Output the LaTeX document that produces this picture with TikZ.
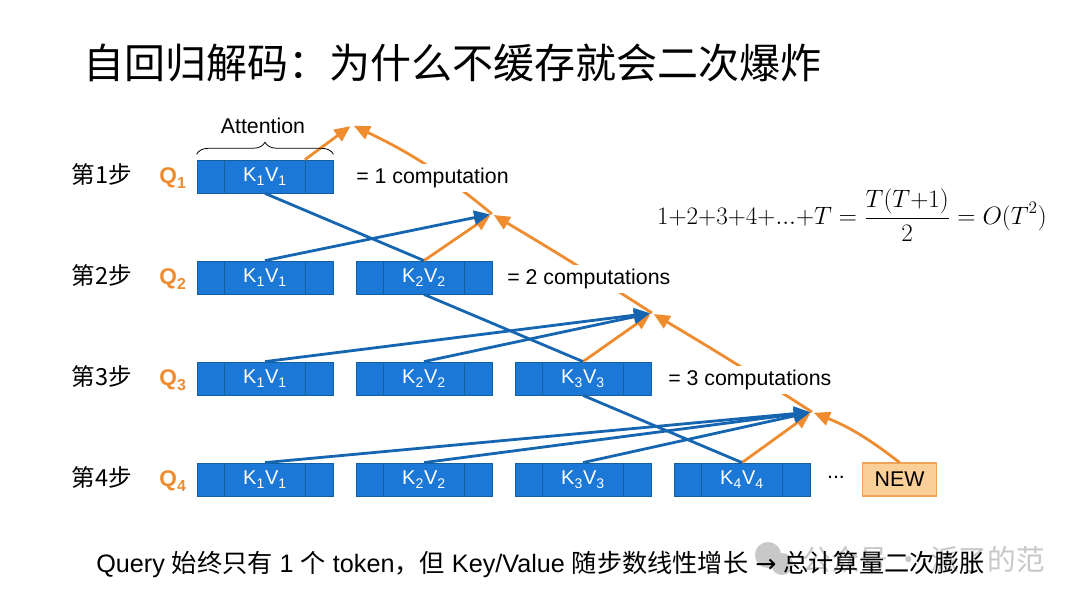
\documentclass[tikz,border=0pt]{standalone}
\usepackage{fontspec}
\setmainfont{Liberation Sans}
\newfontfamily\cjk{Noto Sans CJK SC}
\newfontfamily\arrowfont{DejaVu Sans}
\usetikzlibrary{arrows.meta,decorations.pathreplacing}
\definecolor{kvfill}{HTML}{1B78D6}
\definecolor{kvline}{HTML}{14609F}
\definecolor{arrowblue}{HTML}{1565B0}
\definecolor{arroworange}{HTML}{EE8C2F}
\definecolor{newfill}{HTML}{FBCF98}
\definecolor{markgray}{HTML}{C8C8C8}
\newcommand{\kv}[1]{\raisebox{-1.2pt}{K\textsubscript{\raisebox{-1pt}{#1}}V\textsubscript{\raisebox{-1pt}{#1}}}}
\newcommand{\qlabel}[1]{\textbf{Q\textsubscript{\raisebox{-1.5pt}{#1}}}}
\tikzset{
	kvbox/.style={draw=kvline,fill=kvfill,line width=0.6pt,text=white,inner sep=0pt,
		minimum width=102pt,minimum height=24.75pt,font=\fontsize{15}{17}\selectfont,
		path picture={
			\draw[kvline,line width=0.6pt] ([xshift=20.5pt]path picture bounding box.south west) -- ([xshift=20.5pt]path picture bounding box.north west);
			\draw[kvline,line width=0.6pt] ([xshift=-20.5pt]path picture bounding box.south east) -- ([xshift=-20.5pt]path picture bounding box.north east);
		}},
	newbox/.style={draw=arroworange!80,fill=newfill,line width=0.8pt,inner sep=0pt,
		minimum width=56pt,minimum height=24.75pt,font=\fontsize{16}{18}\selectfont},
	steplabel/.style={font=\cjk\fontsize{17.7}{20}\selectfont},
	qname/.style={text=arroworange,font=\fontsize{17}{20}\selectfont},
	costlabel/.style={fill=white,inner sep=0pt,minimum height=21pt,font=\fontsize{16}{18}\selectfont},
	bluelink/.style={draw=arrowblue,line width=2.1pt},
	bluearrow/.style={bluelink,-{Triangle[length=12pt,width=10.5pt]},shorten >=1.5pt},
	orangearrow/.style={draw=arroworange,line width=2.1pt,-{Triangle[length=12pt,width=10.5pt]},shorten >=1.5pt}
}
\begin{document}
\begin{tikzpicture}[x=0.75pt,y=-0.75pt]
	\useasboundingbox (0,0) rectangle (1080,603);
	\fill[white] (0,0) rectangle (1080,603);
	% title and watermark
	\node[anchor=west,inner sep=0pt,font=\cjk\fontsize{30.75}{34}\selectfont] (title) at (83,63) {自回归解码：为什么不缓存就会二次爆炸};
	\fill[markgray] (768,555) circle (13);
	\fill[markgray] (782,564) circle (11);
	\node[anchor=east,inner sep=0pt,text=markgray,font=\cjk\fontsize{21.5}{24}\selectfont] (mark) at (1045,560) {公众号 · 派了的范};
	% step labels
	\node[steplabel] (s1) at (102,174) {第1步};
	\node[steplabel] (s2) at (102,275) {第2步};
	\node[steplabel] (s3) at (102,376) {第3步};
	\node[steplabel] (s4) at (102,477) {第4步};
	\node[qname] (q1) at (173,178) {\qlabel{1}};
	\node[qname] (q2) at (173,279) {\qlabel{2}};
	\node[qname] (q3) at (173,380) {\qlabel{3}};
	\node[qname] (q4) at (173,481) {\qlabel{4}};
	% key value blocks
	\node[kvbox] (k11) at (265,176.5) {\kv{1}};
	\node[kvbox] (k21) at (265,277.5) {\kv{1}};
	\node[kvbox] (k22) at (424,277.5) {\kv{2}};
	\node[kvbox] (k31) at (265,378.5) {\kv{1}};
	\node[kvbox] (k32) at (424,378.5) {\kv{2}};
	\node[kvbox] (k33) at (583,378.5) {\kv{3}};
	\node[kvbox] (k41) at (265,479.5) {\kv{1}};
	\node[kvbox] (k42) at (424,479.5) {\kv{2}};
	\node[kvbox] (k43) at (583,479.5) {\kv{3}};
	\node[kvbox] (k44) at (742,479.5) {\kv{4}};
	\node[font=\fontsize{16}{18}\selectfont] (dots) at (836,477) {...};
	\node[newbox] (new) at (899.5,479.5) {NEW};
	% meeting points of the arrows
	\coordinate (m1) at (352,125);
	\coordinate (m2) at (492,214);
	\coordinate (m3) at (652,313);
	\coordinate (m4) at (812,412);
	% orange arrows
	\draw[orangearrow] (new.north) to[bend right=8] (m4);
	\draw[orangearrow] (m4) to[bend right=1] (m3);
	\draw[orangearrow] (m3) to[bend right=1] (m2);
	\draw[orangearrow] (m2) to[bend right=7] (m1);
	\draw[orangearrow] ([xshift=30pt]k11.north) -- (m1);
	\draw[orangearrow] (k22.north) -- (m2);
	\draw[orangearrow] (k33.north) -- (m3);
	\draw[orangearrow] (k44.north) -- (m4);
	% blue links
	\draw[bluelink] (k11.south) -- (k22.north);
	\draw[bluelink] (k22.south) -- (k33.north);
	\draw[bluelink] (k33.south) -- (k44.north);
	\draw[bluearrow] (k21.north) -- (m2);
	\draw[bluearrow] (k31.north) -- (m3);
	\draw[bluearrow] (k32.north) -- (m3);
	\draw[bluearrow] (k41.north) -- (m4);
	\draw[bluearrow] (k42.north) -- (m4);
	\draw[bluearrow] (k43.north) -- (m4);
	% counts sit on top of the orange arrows
	\node[costlabel,anchor=west] (c1) at (356,178) {= 1 computation};
	\node[costlabel,anchor=west] (c2) at (507,279) {= 2 computations};
	\node[costlabel,anchor=west] (c3) at (668,380) {= 3 computations};
	% attention brace
	\draw[line width=0.6pt,decorate,decoration={brace,amplitude=9pt}] ([yshift=4pt]k11.north west) -- ([yshift=4pt]k11.north east);
	\node[font=\fontsize{16}{18}\selectfont] (att) at (263,126) {Attention};
	% formula and footer
	\node[font=\fontsize{17.28}{20}\selectfont] (formula) at (852,215) {\scalebox{1.09}{$\displaystyle 1{+}2{+}3{+}4{+}...{+}T=\frac{T(T{+}1)}{2}=O(T^2)$}};
	\node[anchor=west,inner sep=0pt,font=\fontsize{18.9}{22}\selectfont] (foot) at (96,564) {Query {\cjk 始终只有} 1 {\cjk 个} token{\cjk ，但} Key/Value {\cjk 随步数线性增长} {\arrowfont →} {\cjk 总计算量二次膨胀}};
\end{tikzpicture}
\end{document}
